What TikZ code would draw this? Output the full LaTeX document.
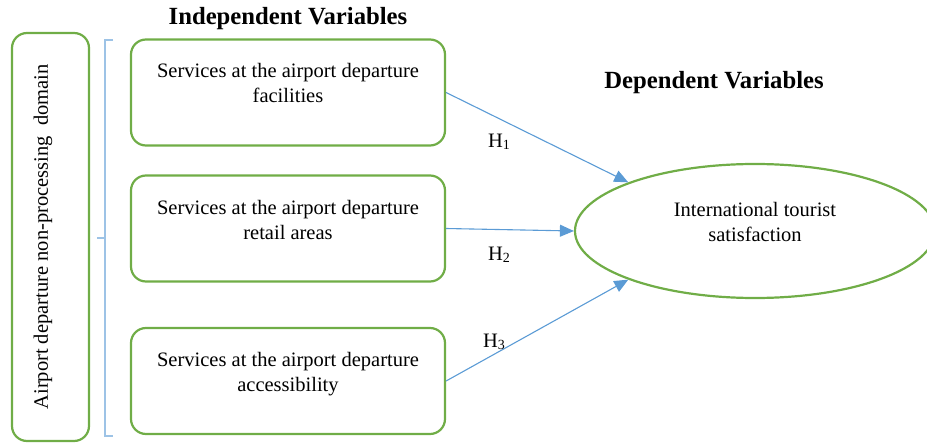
\documentclass[tikz,border=0pt]{standalone}
\usepackage{fontspec}
\setmainfont{Liberation Serif}
\usetikzlibrary{shapes.geometric,arrows.meta}
\definecolor{boxgreen}{RGB}{112,173,71}
\definecolor{linkblue}{RGB}{91,155,213}
\definecolor{bracketblue}{RGB}{157,195,230}
\tikzset{
  varbox/.style={draw=boxgreen, line width=2.2pt, rounded corners=15pt,
    minimum width=314pt, minimum height=106pt,
    font=\fontsize{20.5}{25}\selectfont, inner sep=0pt},
  domainbox/.style={draw=boxgreen, line width=2.2pt, rounded corners=15pt,
    minimum width=77pt, minimum height=408pt, inner sep=0pt},
  outcome/.style={draw=boxgreen, line width=2.2pt, ellipse,
    minimum width=360pt, minimum height=134pt, inner sep=0pt,
    font=\fontsize{20.5}{25}\selectfont},
  heading/.style={font=\fontsize{24.7}{28}\selectfont\bfseries},
  link/.style={draw=linkblue, line width=1.1pt,
    -{Triangle[length=14pt,width=12pt]}},
  hyp/.style={font=\fontsize{20.5}{24}\selectfont, inner sep=0pt}
}
% two centred lines, set a little above the middle of their shape
\newcommand{\twolines}[2]{\raisebox{7pt}[\height][\depth]{\begin{tabular}{@{}c@{}}#1\\#2\end{tabular}}}
\newcommand{\hsub}[1]{H\raisebox{-0.25ex}{\fontsize{14}{14}\selectfont #1}}
\begin{document}
\begin{tikzpicture}[x=1pt,y=-1pt]
  \useasboundingbox (0,0) rectangle (927,444);
  \clip (0,0) rectangle (927,444);

  % grouping box on the left
  \node[domainbox] (domain) at (50.5,237) {};
  \node[rotate=90, font=\fontsize{20.5}{25}\selectfont, inner sep=0pt]
    (domaintxt) at (43,237) {Airport departure non-processing\ \ domain};

  % bracket joining the three services
  \coordinate (brtop) at (105,40);
  \coordinate (brbot) at (105,436);
  \coordinate (brmid) at (105,238);
  \draw[bracketblue, line width=1.2pt] ([xshift=8pt]brtop) -- (brtop) -- (brbot) -- ([xshift=8pt]brbot);
  \draw[bracketblue, line width=1.2pt] (brmid) -- ([xshift=-8pt]brmid);

  % headings
  \node[heading] (indep) at (288,19) {Independent Variables};
  \node[heading] (dep) at (714,83) {Dependent Variables};

  % independent variables
  \node[varbox] (fac) at (288,92.5) {\twolines{Services at the airport departure}{facilities}};
  \node[varbox] (ret) at (288,228.5) {\twolines{Services at the airport departure}{retail areas}};
  \node[varbox] (acc) at (288,381) {\twolines{Services at the airport departure}{accessibility}};

  % dependent variable
  \node[outcome] (sat) at (755,231) {\twolines{International tourist}{satisfaction}};

  % hypotheses
  \draw[link] (fac.east) -- (sat.159);
  \draw[link] (ret.east) -- (sat.west);
  \draw[link] (acc.east) -- (sat.201);

  \node[hyp] (h1) at (499,142) {\hsub{1}};
  \node[hyp] (h2) at (499,255) {\hsub{2}};
  \node[hyp] (h3) at (494,342) {\hsub{3}};
\end{tikzpicture}
\end{document}
